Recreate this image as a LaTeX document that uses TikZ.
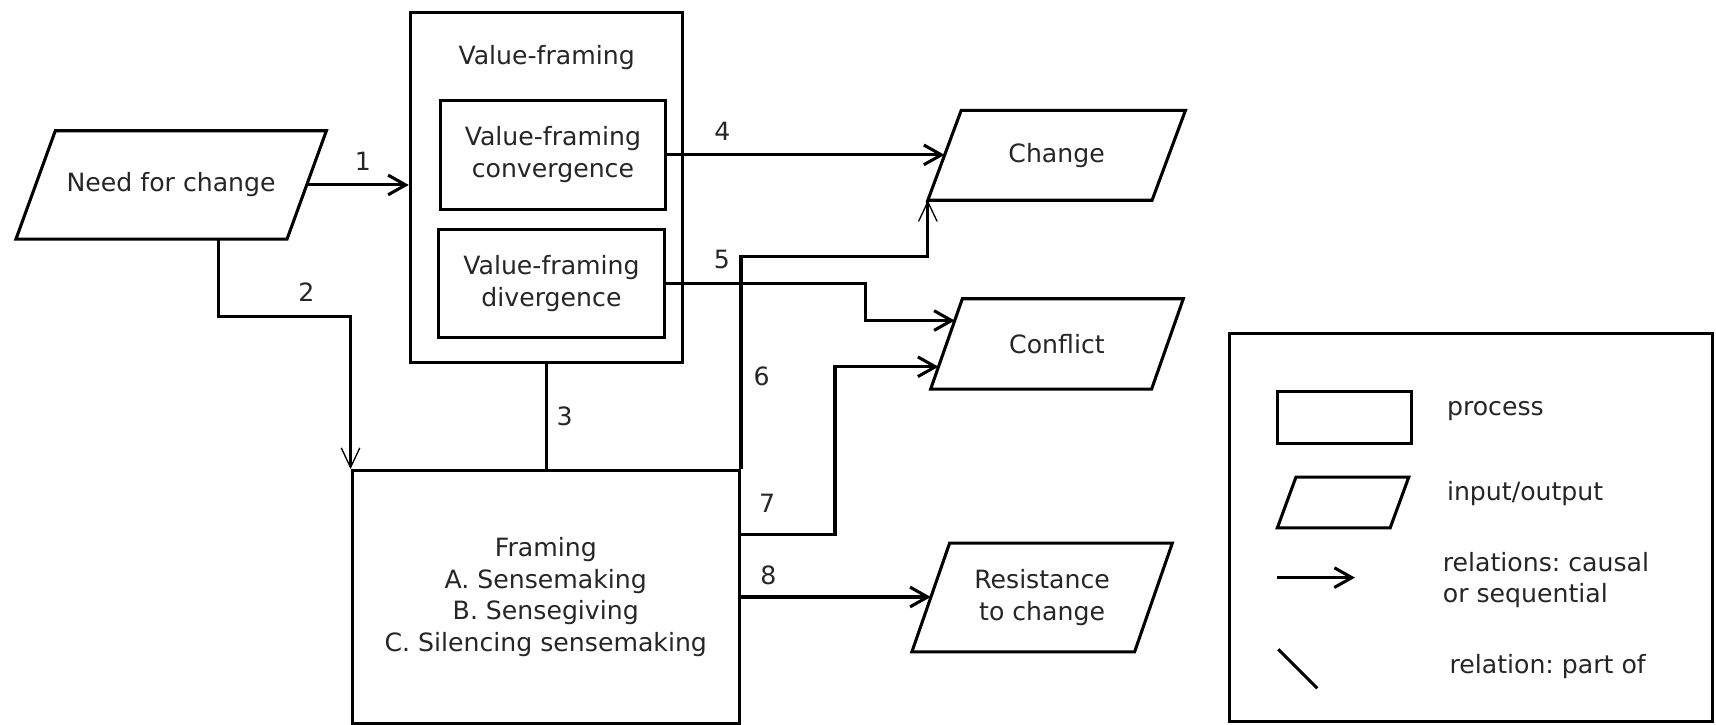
\documentclass[tikz,border=0pt]{standalone}
\usepackage{fontspec}
\setmainfont{DejaVu Sans}
\usetikzlibrary{arrows.meta,calc}
\frenchspacing

\tikzset{
  box/.style={draw, line width=2.8pt, inner sep=0pt, align=center},
  iotext/.style={inner sep=0pt, align=center},
  ioline/.style={line width=2.8pt},
  conn/.style={line width=2.8pt},
  arr/.style={conn, -{Straight Barb[length=16pt,width=18pt]}},
  arrthin/.style={conn, -{Straight Barb[length=18pt,width=17pt,line width=1.2pt]}},
  num/.style={inner sep=0pt},
  legtext/.style={inner sep=0pt, anchor=west, align=left},
}

% input/output parallelogram: name, centre, width, height, slant, text
\newcommand\iobox[6]{%
  \node[iotext, minimum width=#3pt, minimum height=#4pt] (#1) at #2 {#6};
  \draw[ioline] ($(#1.north west)+(#5,0)$) coordinate (#1-tl)
     -- (#1.north east) coordinate (#1-tr)
     -- ($(#1.south east)-(#5,0)$) coordinate (#1-br)
     -- (#1.south west) coordinate (#1-bl) -- cycle;
}

\begin{document}
\begin{tikzpicture}[x=1pt,y=-1pt,
  font=\fontsize{23}{29}\selectfont,
  every node/.append style={text=black!85}]
\fill[white] (0,0) rectangle (1568,662);
\useasboundingbox (0,0) rectangle (1568,662);

% processes
\node[box, minimum width=249pt, minimum height=320pt] (vf) at (499.4,171) {};
\node (vftitle) at (499.5,53) {Value-framing};
\node[box, minimum width=206pt, minimum height=99pt] (conv) at (505.2,141.5) {Value-framing\\convergence};
\node[box, minimum width=206pt, minimum height=99pt] (div) at (503.9,258.8) {Value-framing\\divergence};
\node[box, minimum width=354pt, minimum height=231pt] (fr) at (498.7,545.5)
  {Framing\\A. Sensemaking\\B. Sensegiving\\C. Silencing sensemaking};

% inputs and outputs
\iobox{need}{(156.4,169)}{283.3}{98.7}{36}{Need for change}
\iobox{chg}{(965.5,141.9)}{235}{81.7}{30.5}{Change}
\iobox{cfl}{(965.8,314.3)}{230.5}{82.2}{29}{Conflict}
\iobox{res}{(952.2,546)}{237.6}{99}{34.5}{Resistance\\to change}

% relations
\coordinate (n1) at ($(need-tr)!0.5!(need-br)$);
\draw[arr] (n1) -- (n1 -| vf.west);
\node[num] (l1) at (331.5,147.7) {1};

\coordinate (n2) at ($(need-bl)!0.746!(need-br)$);
\coordinate (k2) at (0,289.4);
\draw[arrthin] (n2) -- (n2 |- k2) -| (fr.north west);
\node[num] (l2) at (280,266.5) {2};

\draw[conn] (vf.south) -- (vf.south |- fr.north);
\node[num] (l3) at (516,380) {3};

\coordinate (e4) at ($(chg-bl)!0.5!(chg-tl)$);
\draw[arr] (conv.east) -- (conv.east -| e4);
\node[num] (l4) at (660,120) {4};

\coordinate (k5) at (791,0);
\coordinate (e5) at ($(cfl-bl)!0.759!(cfl-tl)$);
\draw[arr] (div.east) -- (div.east -| k5) |- (e5);
\node[num] (l5) at (659.5,236.7) {5};

\coordinate (k6) at (0,234.5);
\draw[arrthin] (fr.north east) -- (fr.north east |- k6) -| (chg-bl);
\node[num] (l6) at (696,344) {6};

\coordinate (k7) at (763,488.8);
\coordinate (e7) at ($(cfl-bl)!0.248!(cfl-tl)$);
\draw[arr] (k7 -| fr.east) -- (k7) |- (e7);
\node[num] (l7) at (701,460) {7};

\coordinate (e8) at ($(res-bl)!0.5!(res-tl)$);
\draw[arr] (fr.east) -- (fr.east -| e8);
\node[num] (l8) at (702,525.4) {8};

% legend
\node[draw, line width=2.8pt, minimum width=441.7pt, minimum height=354.8pt] (leg) at (1344.2,482) {};
\node[box, minimum width=122.8pt, minimum height=47pt] (lp) at (1228.6,381.5) {};
\node[legtext] (lpt) at (1322,376) {process};
\iobox{lio}{(1227.2,459.2)}{119.7}{46}{17}{}
\node[legtext] (liot) at (1322,450.8) {input/output};
\coordinate (la1) at (1167.2,527.8);
\coordinate (la2) at (1238.1,527.8);
\draw[arr] (la1) -- (la2);
\node[legtext] (lat) at (1318.2,530) {relations: causal\\or sequential};
\coordinate (ls1) at (1168,593.3);
\coordinate (ls2) at (1203.7,629);
\draw[conn] (ls1) -- (ls2);
\node[legtext] (lst) at (1324.3,609.2) {relation: part of};
\end{tikzpicture}
\end{document}
